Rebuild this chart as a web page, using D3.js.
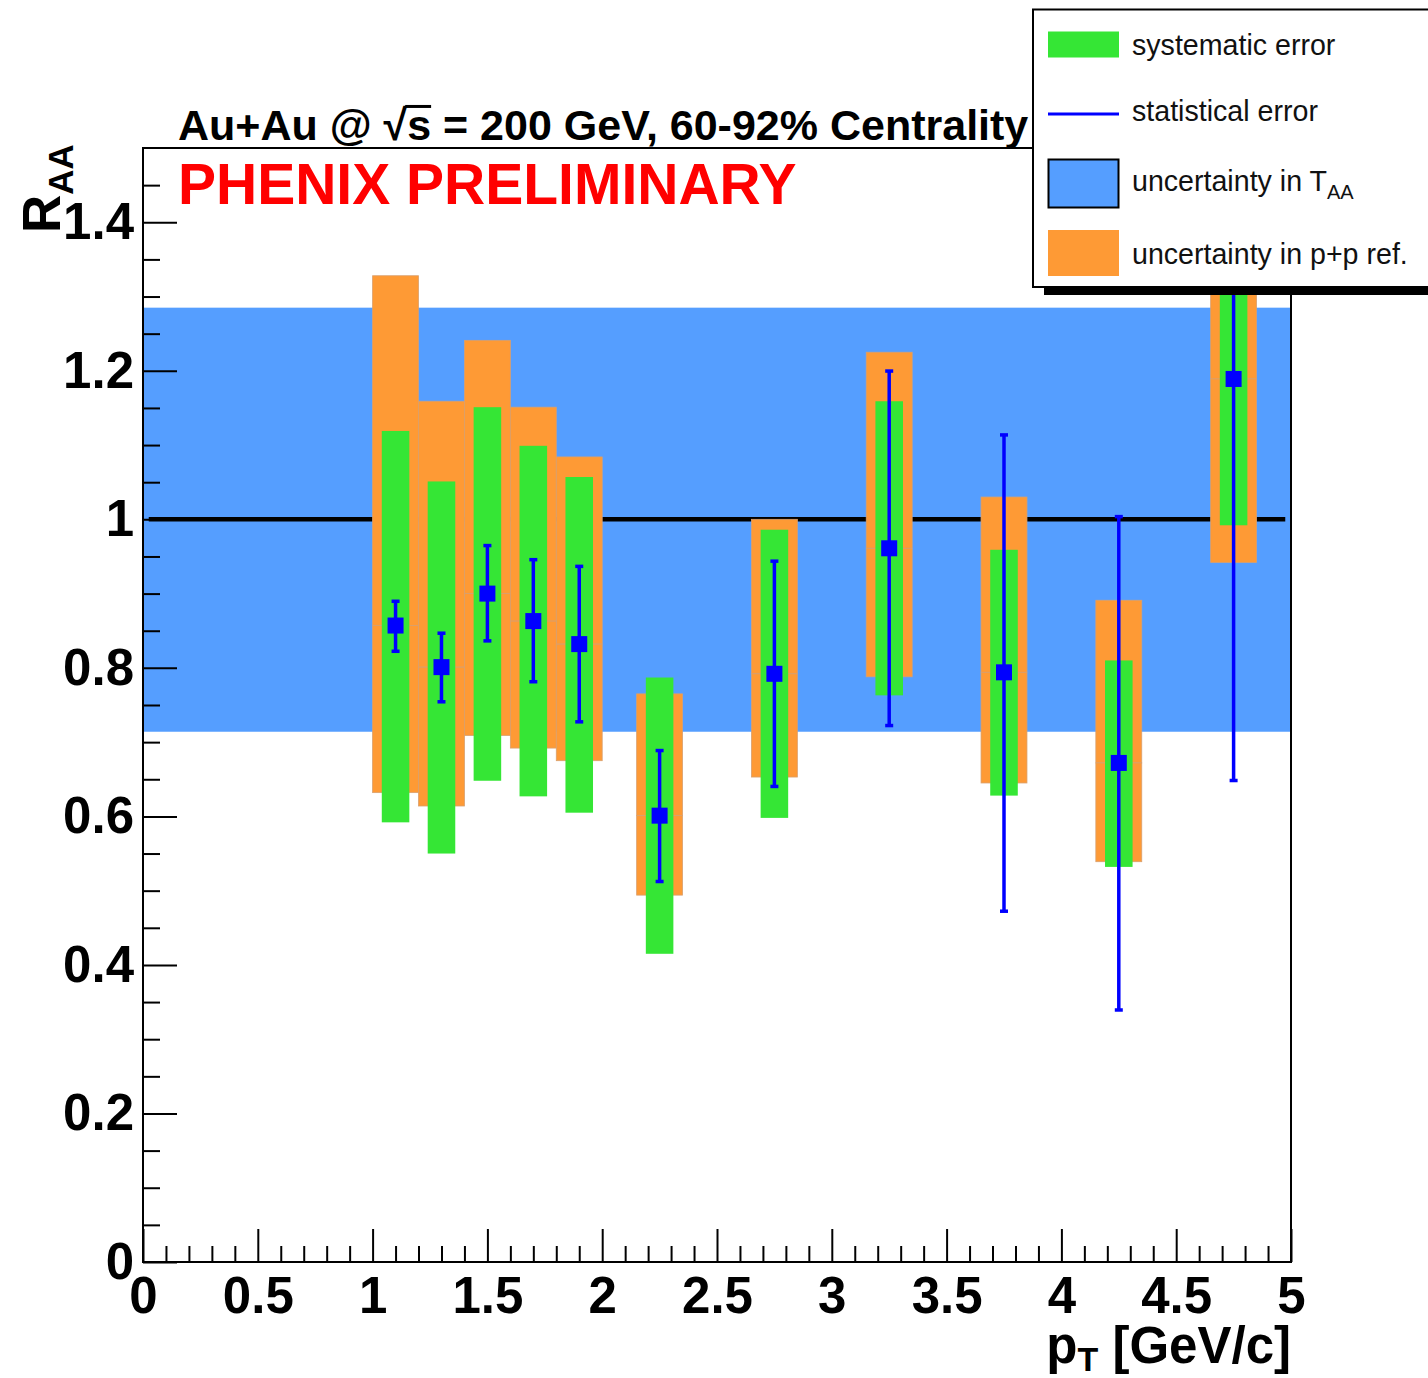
<!DOCTYPE html>
<html>
<head>
<meta charset="utf-8">
<script src="https://cdn.jsdelivr.net/npm/d3@7/dist/d3.min.js"></script>
<style>
  html, body { margin: 0; padding: 0; background: #fff; }
  svg { display: block; }
  text { font-family: "Liberation Sans", Arial, Helvetica, sans-serif; }
</style>
</head>
<body>
<svg id="chart" width="1428" height="1378"></svg>
<script>
// ---------------- DATA ----------------
const pt     = [1.1, 1.3, 1.5, 1.7, 1.9, 2.25, 2.75, 3.25, 3.75, 4.25, 4.75];
const raa    = [0.857, 0.801, 0.900, 0.863, 0.832, 0.601, 0.792, 0.961, 0.794, 0.672, 1.189];
const statLo = [0.822, 0.754, 0.836, 0.781, 0.727, 0.512, 0.640, 0.722, 0.472, 0.339, 0.648];
const statHi = [0.890, 0.847, 0.965, 0.946, 0.937, 0.689, 0.944, 1.200, 1.114, 1.004, 1.731];
const sysLo  = [0.592, 0.550, 0.648, 0.627, 0.605, 0.415, 0.598, 0.763, 0.628, 0.532, 0.992];
const sysHi  = [1.119, 1.051, 1.151, 1.099, 1.057, 0.787, 0.986, 1.159, 0.959, 0.810, 1.387];
const ppLo   = [0.632, 0.614, 0.709, 0.692, 0.675, 0.494, 0.653, 0.788, 0.645, 0.539, 0.942];
const ppHi   = [1.328, 1.159, 1.241, 1.151, 1.084, 0.765, 1.000, 1.225, 1.030, 0.891, 1.437];
const taaBand = [0.714, 1.285];
const sysHalfWidth = 0.06;
const ppHalfWidth = 0.1;
const refLine = { x0: 0.025, x1: 4.975, y: 1 };

const xDomain = [0, 5];
const yDomain = [0, 1.5];
const xMajorTicks = [0, 0.5, 1, 1.5, 2, 2.5, 3, 3.5, 4, 4.5, 5];
const yMajorTicks = [0, 0.2, 0.4, 0.6, 0.8, 1, 1.2, 1.4];
const xTickLabels = ["0", "0.5", "1", "1.5", "2", "2.5", "3", "3.5", "4", "4.5", "5"];
const yTickLabels = ["0", "0.2", "0.4", "0.6", "0.8", "1", "1.2", "1.4"];

const legendLabels = ["systematic error", "statistical error", "uncertainty in T", "uncertainty in p+p ref."];
const titleText = ["Au+Au @ ", "\u221A", "s", " = 200 GeV, 60-92% Centrality"];
const prelimText = "PHENIX PRELIMINARY";

// ---------------- LAYOUT ----------------
const C = { green: "#35e635", orange: "#fe9a35", band: "#559eff", blue: "#0000ff" };
const L = 143, R = 1291, T = 148, B = 1262;
const svg = d3.select("#chart");
const x = d3.scaleLinear().domain(xDomain).range([L, R]);
const y = d3.scaleLinear().domain(yDomain).range([B, T]);

svg.append("defs").append("clipPath").attr("id", "frameClip")
  .append("rect").attr("x", L).attr("y", T).attr("width", R - L).attr("height", B - T);

const plot = svg.append("g").attr("clip-path", "url(#frameClip)");

// TAA band
plot.append("rect")
  .attr("x", x(xDomain[0])).attr("width", x(xDomain[1]) - x(xDomain[0]))
  .attr("y", y(taaBand[1])).attr("height", y(taaBand[0]) - y(taaBand[1]))
  .attr("fill", C.band);

// reference line at 1
plot.append("line")
  .attr("x1", x(refLine.x0)).attr("x2", x(refLine.x1))
  .attr("y1", y(refLine.y)).attr("y2", y(refLine.y))
  .attr("stroke", "#000").attr("stroke-width", 4.5);

const idx = d3.range(pt.length);

// p+p ref boxes (upper and lower halves)
const ppG = plot.append("g");
ppG.selectAll("rect.up").data(idx).join("rect").attr("class", "up")
  .attr("x", i => x(pt[i] - ppHalfWidth)).attr("width", i => x(pt[i] + ppHalfWidth) - x(pt[i] - ppHalfWidth))
  .attr("y", i => y(ppHi[i])).attr("height", i => y(raa[i]) - y(ppHi[i]))
  .attr("fill", C.orange).attr("stroke", "#d9a06e").attr("stroke-width", 0.8);
ppG.selectAll("rect.lo").data(idx).join("rect").attr("class", "lo")
  .attr("x", i => x(pt[i] - ppHalfWidth)).attr("width", i => x(pt[i] + ppHalfWidth) - x(pt[i] - ppHalfWidth))
  .attr("y", i => y(raa[i])).attr("height", i => y(ppLo[i]) - y(raa[i]))
  .attr("fill", C.orange).attr("stroke", "#d9a06e").attr("stroke-width", 0.8);

// systematic boxes
plot.append("g").selectAll("rect").data(idx).join("rect")
  .attr("x", i => x(pt[i] - sysHalfWidth)).attr("width", i => x(pt[i] + sysHalfWidth) - x(pt[i] - sysHalfWidth))
  .attr("y", i => y(sysHi[i])).attr("height", i => y(sysLo[i]) - y(sysHi[i]))
  .attr("fill", C.green);

// statistical error bars
const stG = plot.append("g");
stG.selectAll("line").data(idx).join("line")
  .attr("x1", i => x(pt[i])).attr("x2", i => x(pt[i]))
  .attr("y1", i => y(statHi[i])).attr("y2", i => y(statLo[i]))
  .attr("stroke", C.blue).attr("stroke-width", 3.5);
stG.selectAll("rect.capH").data(idx).join("rect").attr("class", "capH")
  .attr("x", i => x(pt[i]) - 4).attr("width", 8)
  .attr("y", i => y(statHi[i]) - 1.5).attr("height", 3.5).attr("fill", C.blue);
stG.selectAll("rect.capL").data(idx).join("rect").attr("class", "capL")
  .attr("x", i => x(pt[i]) - 4).attr("width", 8)
  .attr("y", i => y(statLo[i]) - 2).attr("height", 3.5).attr("fill", C.blue);

// markers
plot.append("g").selectAll("rect").data(idx).join("rect")
  .attr("x", i => x(pt[i]) - 8).attr("y", i => y(raa[i]) - 8)
  .attr("width", 16).attr("height", 16).attr("fill", C.blue);

// ---------------- AXES ----------------
const yMinor = d3.range(0, 1.5001, 0.05).map(v => +v.toFixed(2)).filter(v => !yMajorTicks.includes(v) && v < 1.5);
const xMinor = d3.range(0, 5.0001, 0.1).map(v => +v.toFixed(1)).filter(v => !xMajorTicks.includes(v));

const yAxisMinor = svg.append("g").attr("transform", `translate(${L},0)`)
  .call(d3.axisLeft(y).tickValues(yMinor).tickSize(-17).tickFormat(""));
const yAxis = svg.append("g").attr("transform", `translate(${L},0)`)
  .call(d3.axisLeft(y).tickValues(yMajorTicks).tickSizeInner(-34).tickSizeOuter(0).tickPadding(9)
    .tickFormat((d, i) => yTickLabels[i]));
const xAxisMinor = svg.append("g").attr("transform", `translate(0,${B})`)
  .call(d3.axisBottom(x).tickValues(xMinor).tickSize(-16).tickFormat(""));
const xAxis = svg.append("g").attr("transform", `translate(0,${B})`)
  .call(d3.axisBottom(x).tickValues(xMajorTicks).tickSizeInner(-33).tickSizeOuter(0).tickPadding(15)
    .tickFormat((d, i) => xTickLabels[i]));

[yAxisMinor, yAxis, xAxisMinor, xAxis].forEach(g => {
  g.select(".domain").remove();
  g.selectAll(".tick line").attr("stroke", "#000").attr("stroke-width", 2);
  g.selectAll(".tick text").attr("fill", "#000").attr("font-size", 51).attr("font-weight", "bold")
    .style("font-family", '"Liberation Sans", Arial, Helvetica, sans-serif');
});

// frame
svg.append("rect").attr("x", L).attr("y", T).attr("width", R - L).attr("height", B - T)
  .attr("fill", "none").attr("stroke", "#000").attr("stroke-width", 2);

// axis titles
const xt = svg.append("text").attr("x", R).attr("y", 1363).attr("text-anchor", "end")
  .attr("font-size", 51).attr("font-weight", "bold").attr("fill", "#000");
xt.append("tspan").text("p");
xt.append("tspan").text("T").attr("font-size", 34).attr("dy", 8);
xt.append("tspan").text(" [GeV/c]").attr("dy", -8);

const yt = svg.append("text").attr("transform", "translate(60,233) rotate(-90)")
  .attr("font-size", 53).attr("font-weight", "bold").attr("fill", "#000");
yt.append("tspan").text("R");
yt.append("tspan").text("AA").attr("font-size", 35).attr("dy", 13);

// titles
const tSize = 43;
const title = svg.append("text").attr("x", 178).attr("y", 140)
  .attr("font-size", tSize).attr("font-weight", "bold").attr("fill", "#000");
titleText.forEach(t => title.append("tspan").text(t));
try {
  const node = title.node();
  const iR = titleText[0].length, iS = iR + 1;
  const eR = node.getExtentOfChar(iR), eS = node.getExtentOfChar(iS);
  const topY = 140 - 0.78 * tSize;
  svg.append("line")
    .attr("x1", eR.x + eR.width - 2).attr("x2", eS.x + eS.width)
    .attr("y1", topY).attr("y2", topY)
    .attr("stroke", "#000").attr("stroke-width", 3);
} catch (e) {}

svg.append("text").attr("x", 178).attr("y", 204)
  .attr("font-size", 57).attr("font-weight", "bold").attr("fill", "#ff0000")
  .text(prelimText);

// ---------------- LEGEND ----------------
const lg = svg.append("g");
lg.append("rect").attr("x", 1044).attr("y", 287).attr("width", 500).attr("height", 8).attr("fill", "#000");
lg.append("rect").attr("x", 1033).attr("y", 9.5).attr("width", 500).attr("height", 277.5)
  .attr("fill", "#fff").attr("stroke", "#000").attr("stroke-width", 2);

const swX = 1048, swW = 71, txX = 1132;
lg.append("rect").attr("x", swX).attr("y", 31.5).attr("width", swW).attr("height", 26).attr("fill", C.green);
lg.append("line").attr("x1", swX).attr("x2", swX + swW).attr("y1", 114).attr("y2", 114)
  .attr("stroke", C.blue).attr("stroke-width", 3);
lg.append("rect").attr("x", swX + 0.5).attr("y", 159.5).attr("width", swW - 1).attr("height", 48)
  .attr("fill", C.band).attr("stroke", "#000").attr("stroke-width", 2);
lg.append("rect").attr("x", swX).attr("y", 230).attr("width", swW).attr("height", 46).attr("fill", C.orange);

const lgBase = [55, 121, 191, 264];
lgBase.forEach((b, i) => {
  const t = lg.append("text").attr("x", txX).attr("y", b).attr("font-size", 28.6).attr("fill", "#111");
  t.append("tspan").text(legendLabels[i]);
  if (i === 2) t.append("tspan").text("AA").attr("font-size", 20).attr("dy", 8);
});
</script>
</body>
</html>
